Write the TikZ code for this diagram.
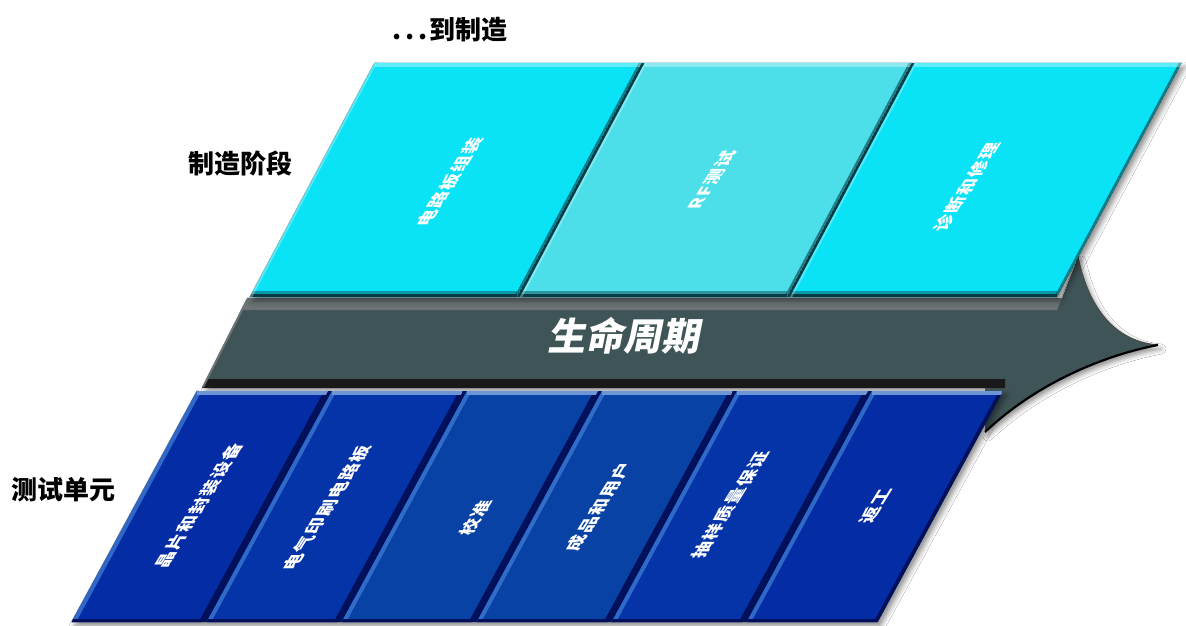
\documentclass[tikz,border=0pt]{standalone}
\usepackage{fontspec}
\newfontfamily\cjk{Noto Sans CJK SC}
\newfontfamily\cjkpanel[LetterSpace=6]{Noto Sans CJK SC}
\newfontfamily\cjklife[FakeSlant=0.2]{Noto Sans CJK SC}
\usetikzlibrary{shadows.blur}
\definecolor{cyanA}{RGB}{10,226,246}
\definecolor{cyanB}{RGB}{76,223,233}
\definecolor{bandC}{RGB}{63,84,87}
\definecolor{bandL}{RGB}{108,116,117}
\definecolor{blueA}{RGB}{4,44,164}
\definecolor{blueB}{RGB}{4,52,168}
\definecolor{blueC}{RGB}{8,66,164}
\definecolor{blueHi}{RGB}{110,150,215}
\definecolor{blueEdge}{RGB}{60,120,210}
\definecolor{navy}{RGB}{0,16,90}
\definecolor{tealDark}{RGB}{6,60,70}
\begin{document}
\begin{tikzpicture}[x=1pt,y=-1pt,
  outlabel/.style={font=\cjk\bfseries\fontsize{26}{26}\selectfont, text=black, inner sep=0pt},
  paneltext/.style={font=\cjkpanel\bfseries\fontsize{17}{17}\selectfont, text=white, inner sep=0pt, cm={0.62,1,-1,0,(0,0)}},
  lifetext/.style={font=\cjklife\bfseries\fontsize{38}{38}\selectfont, text=white, inner sep=0pt},
  softshadow/.style={blur shadow={shadow xshift=3pt, shadow yshift=-4pt, shadow blur radius=5pt, shadow opacity=45}}
]
\useasboundingbox (0,0) rectangle (1186,626);
\fill[white] (0,0) rectangle (1186,626);

% life-cycle arrow band
\path[softshadow, fill=bandC] (248,298) -- (1062,298) -- (1078,257)
  .. controls (1090,315) and (1120,342) .. (1158,345)
  .. controls (1110,354) and (1040,380) .. (985,432) -- (985,387) -- (203,387) -- cycle;
\fill[bandL] (248,298) -- (1062,298) -- (1057,310) -- (242,310) -- cycle;
\fill[black!90] (207,379) -- (1005,379) -- (1005,388) -- (202,388) -- cycle;
\draw[bandL, line width=2] (248,298) -- (203,387);
\draw[black!70, line width=1.2] (1078,257) .. controls (1090,315) and (1120,342) .. (1158,345);
\draw[black, line width=2.2] (1158,345) .. controls (1110,354) and (1040,380) .. (985,432);

% top panels: dark backing then panels
\path[softshadow, fill=tealDark] (250,297) -- (1057,297) -- (1181.6,63) -- (374.6,63) -- cycle;
\foreach \i/\c in {0/cyanA,1/cyanB,2/cyanA}{
  \pgfmathsetmacro\bl{250+270*\i}
  \begin{scope}
    \clip (\bl,297) -- ({\bl+267},297) -- ({\bl+391.6},63) -- ({\bl+124.6},63) -- cycle;
    \fill[\c] (\bl,297) -- ({\bl+267},297) -- ({\bl+391.6},63) -- ({\bl+124.6},63) -- cycle;
    \draw[tealDark, line width=12, opacity=0.45] (\bl,297) -- ({\bl+267},297);
    \draw[tealDark, line width=6] (\bl,297) -- ({\bl+267},297);
    \draw[tealDark, line width=5, opacity=0.6] ({\bl+267},297) -- ({\bl+391.6},63);
    \draw[white, line width=8, opacity=0.35] ({\bl+124.6},63) -- ({\bl+391.6},63);
    \draw[white, line width=4, opacity=0.3] (\bl,297) -- ({\bl+124.6},63);
  \end{scope}
}

% bottom panels: navy backing then panels
\path[softshadow, fill=navy] (197,391) -- (1003,391) -- (877.6,622) -- (71.6,622) -- cycle;
\foreach \i/\c in {0/blueA,1/blueB,2/blueC,3/blueC,4/blueB,5/blueA}{
  \pgfmathsetmacro\tl{197+135*\i}
  \begin{scope}
    \clip (\tl,391) -- ({\tl+131},391) -- ({\tl+5.6},622) -- ({\tl-125.4},622) -- cycle;
    \fill[\c] (\tl,391) -- ({\tl+131},391) -- ({\tl+5.6},622) -- ({\tl-125.4},622) -- cycle;
    \draw[blueEdge, line width=8, opacity=0.8] (\tl,391) -- ({\tl-125.4},622);
    \draw[navy, line width=7] ({\tl+131},391) -- ({\tl+5.6},622);
    \draw[navy, line width=6] ({\tl-125.4},622) -- ({\tl+5.6},622);
    \draw[blueHi, line width=7] (\tl,391) -- ({\tl+131},391);
  \end{scope}
}

% texts in panels
\node[paneltext] (t1) at (450,182) {电路板组装};
\node[paneltext] (t2) at (712,180) {RF测试};
\node[paneltext] (t3) at (967,187) {诊断和修理};
\node[paneltext] (b1) at (199,506) {晶片和封装设备};
\node[paneltext] (b2) at (327,508) {电气印刷电路板};
\node[paneltext] (b3) at (476,518) {校准};
\node[paneltext] (b4) at (599,507) {成品和用户};
\node[paneltext] (b5) at (730,505) {抽样质量保证};
\node[paneltext] (b6) at (876,506) {返工};

\node[lifetext] (life) at (623,336) {生命周期};

% outside labels
\node[outlabel] (l1) at (450,30) {.\hspace{4pt}.\hspace{4pt}.\hspace{2pt}到制造};
\node[outlabel] (l2) at (240,163) {制造阶段};
\node[outlabel] (l3) at (64,490) {测试单元};
\end{tikzpicture}
\end{document}
